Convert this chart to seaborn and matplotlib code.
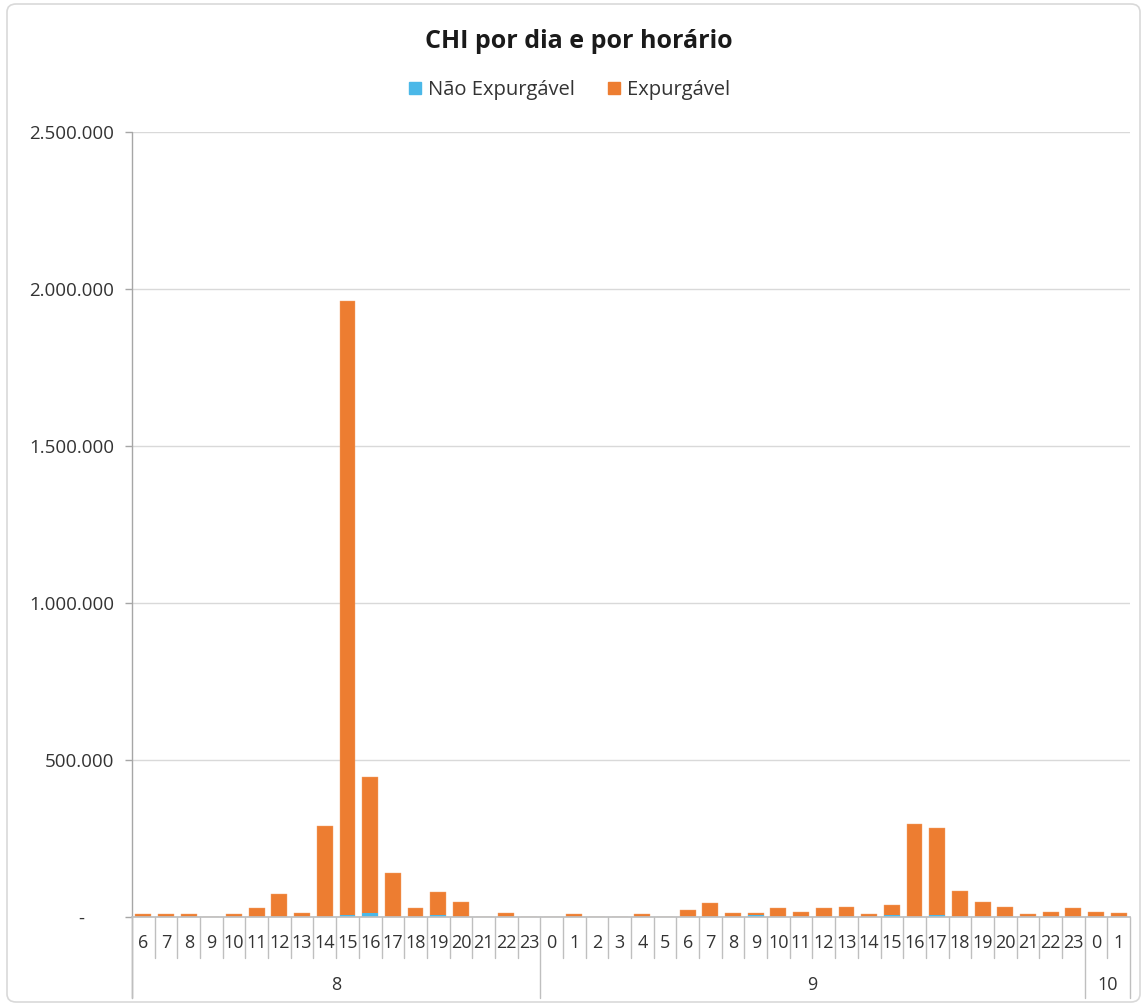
import pandas as pd
import matplotlib.pyplot as plt
from matplotlib.patches import FancyBboxPatch, Patch
from matplotlib.ticker import FuncFormatter
import seaborn as sns

# Dados (dia / hora / CHI)
dias = [8] * 18 + [9] * 24 + [10] * 2
horas = [6, 7, 8, 9, 10, 11, 12, 13, 14, 15, 16, 17, 18, 19, 20, 21, 22, 23,
         0, 1, 2, 3, 4, 5, 6, 7, 8, 9, 10, 11, 12, 13, 14, 15, 16, 17, 18, 19, 20, 21, 22, 23,
         0, 1]
nao_expurgavel = [0, 0, 0, 0, 0, 0, 0, 0, 0, 6000, 12000, 0, 0, 6000, 0, 0, 0, 0,
                  0, 0, 0, 0, 0, 0, 0, 0, 0, 5000, 0, 0, 0, 0, 0, 5000, 0, 6000, 0, 0, 0, 0, 0, 0,
                  0, 0]
expurgavel = [8000, 8000, 8000, 0, 8000, 29000, 73000, 13000, 290000, 1956000, 434000, 140000,
              30000, 74000, 47000, 0, 12000, 0,
              0, 8000, 0, 0, 8000, 0, 22000, 45000, 13000, 8000, 29000, 17000, 29000, 32000,
              8000, 33000, 296000, 277000, 83000, 48000, 32000, 8000, 16000, 29000,
              16000, 13000]

COR_NAO = '#4BB8E8'
COR_EXP = '#ED7D31'
COR_TXT = '#333333'

df = pd.DataFrame({'dia': dias, 'hora': horas, 'nao': nao_expurgavel, 'exp': expurgavel})
df['chave'] = df['dia'].astype(str) + '-' + df['hora'].astype(str)
df['total'] = df['nao'] + df['exp']

sns.set_theme(style='white')
plt.rcParams['font.family'] = ['Open Sans', 'DejaVu Sans']

W, H = 1146, 1006
fig = plt.figure(figsize=(W / 100, H / 100), dpi=100)
ax = fig.add_axes([132 / W, 1 - 917 / H, (1130 - 132) / W, (917 - 132) / H])

# barras empilhadas: total em laranja, parte não expurgável por cima (na base)
sns.barplot(data=df, x='chave', y='total', order=df['chave'], color=COR_EXP, saturation=1,
            width=0.7, edgecolor='#F3A46F', linewidth=0.3, ax=ax, errorbar=None)
sns.barplot(data=df, x='chave', y='nao', order=df['chave'], color=COR_NAO, saturation=1,
            width=0.7, linewidth=0, ax=ax, errorbar=None)

ax.set_ylim(0, 2_500_000)
ax.set_xlim(-0.5, len(df) - 0.5)
ax.set_yticks(range(0, 2_500_001, 500_000))
ax.yaxis.set_major_formatter(FuncFormatter(
    lambda v, pos: '-      ' if v == 0 else f'{v:,.0f}'.replace(',', '.')))
ax.tick_params(axis='y', length=5, width=1, color='#a6a6a6', pad=8,
               labelsize=13.5, labelcolor=COR_TXT, left=True)
ax.set_xticks([])
ax.set_xlabel('')
ax.set_ylabel('')
ax.grid(axis='y', color='#d9d9d9', lw=1)
ax.set_axisbelow(True)
for s in ['top', 'right']:
    ax.spines[s].set_visible(False)
ax.spines['bottom'].set_color('#bfbfbf')
ax.spines['left'].set_visible(False)

# eixo vertical estendido até o fim dos rótulos
trans = ax.get_xaxis_transform()
ax.plot([-0.5, -0.5], [-0.103, 1], transform=trans, color='#a6a6a6', lw=1, clip_on=False)

# rótulos de hora e separadores
limites_dia = [0] + list(df.index[df['dia'] != df['dia'].shift()][1:]) + [len(df)]
for i, h in enumerate(df['hora']):
    ax.text(i, -0.033, str(h), transform=trans, ha='center', va='center',
            fontsize=13, color=COR_TXT)
for i in range(len(df) + 1):
    y0 = -0.103 if i in limites_dia else -0.052
    ax.plot([i - 0.5, i - 0.5], [y0, 0], transform=trans, color='#bfbfbf', lw=1, clip_on=False)

# rótulos de dia
for a, b in zip(limites_dia[:-1], limites_dia[1:]):
    ax.text((a + b - 1) / 2, -0.087, str(df['dia'][a]), transform=trans, ha='center',
            va='center', fontsize=13, color=COR_TXT)

fig.text(0.505, 1 - 41 / H, 'CHI por dia e por horário', ha='center', va='center',
         fontsize=18, fontweight='bold', color='#1a1a1a')
handles = [Patch(color=COR_NAO, label='Não Expurgável'), Patch(color=COR_EXP, label='Expurgável')]
fig.legend(handles=handles, loc='center', bbox_to_anchor=(0.497, 1 - 90 / H), ncol=2,
           frameon=False, handlelength=0.6, handleheight=0.6, handletextpad=0.35,
           columnspacing=1.6, prop={'size': 14.5}, labelcolor=COR_TXT)

fig.patches.append(FancyBboxPatch((7 / W, 4 / H), (1140 - 7) / W, (1002 - 4) / H,
                                  boxstyle='round,pad=0,rounding_size=0.008',
                                  transform=fig.transFigure, fc='none', ec='#d9d9d9', lw=1.2))

fig.savefig('out.png', dpi=100)
